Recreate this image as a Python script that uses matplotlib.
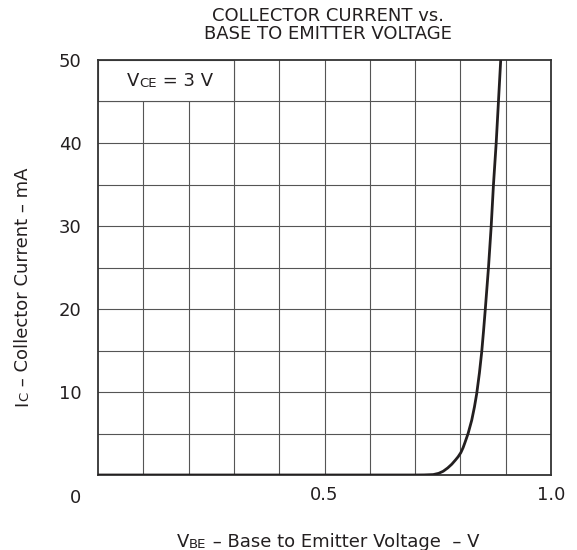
import matplotlib
matplotlib.use("Agg")
import matplotlib.pyplot as plt
from matplotlib.patches import Rectangle
from matplotlib.transforms import Bbox

# ---- data ----
vbe = [0.0, 0.30, 0.50, 0.60, 0.70, 0.72, 0.74, 0.752, 0.762, 0.772, 0.781,
       0.789, 0.795, 0.801, 0.806, 0.810, 0.817, 0.825, 0.831, 0.836, 0.842,
       0.847, 0.851, 0.855, 0.862, 0.868, 0.873, 0.879, 0.884, 0.889]
ic = [0.0, 0.0, 0.0, 0.0, 0.0, 0.01, 0.05, 0.2, 0.45, 0.85, 1.3,
      1.8, 2.2, 2.7, 3.3, 3.9, 5.0, 6.6, 8.2, 9.8, 12.3,
      14.8, 17.3, 20.0, 25.0, 30.0, 35.0, 40.0, 45.0, 50.0]

x_ticks = [0.5, 1.0]
x_tick_labels = ["0.5", "1.0"]
y_ticks = [10, 20, 30, 40, 50]
y_tick_labels = ["10", "20", "30", "40", "50"]
x_grid = [0.1, 0.2, 0.3, 0.4, 0.5, 0.6, 0.7, 0.8, 0.9]
y_grid = [5, 10, 15, 20, 25, 30, 35, 40, 45]

title_text = "COLLECTOR CURRENT vs.\nBASE TO EMITTER VOLTAGE"
xlabel_pieces = [("V", 13), ("BE", 9.5), (" \u2013 Base to Emitter Voltage  \u2013 V", 13)]
ylabel_pieces = [("I", 13), ("C", 9.5), (" \u2013 Collector Current \u2013 mA", 13)]
cond_pieces = [("V", 13), ("CE", 9.5), (" = 3 V", 13)]

# ---- style ----
plt.rcParams["font.family"] = ["DejaVu Sans"]
TC = "#231f20"
GRID = "#555555"
W, H = 577, 550

fig = plt.figure(figsize=(W / 100, H / 100), dpi=100)
ax = fig.add_axes([98 / W, 1 - 475 / H, (551 - 98) / W, (475 - 60) / H])
ax.set_xlim(0, 1.0)
ax.set_ylim(0, 50)

ax.set_xticks(x_ticks)
ax.set_xticklabels(x_tick_labels)
ax.set_yticks(y_ticks)
ax.set_yticklabels(y_tick_labels)
ax.tick_params(which="both", length=0, labelsize=13, labelcolor=TC)
ax.tick_params(axis="x", pad=8)
ax.tick_params(axis="y", pad=12)
for gx in x_grid:
    ax.axvline(gx, color=GRID, linewidth=0.8, zorder=1)
for gy in y_grid:
    ax.axhline(gy, color=GRID, linewidth=0.8, zorder=1)
for s in ax.spines.values():
    s.set_color("#333333")
    s.set_linewidth(1.3)

ax.plot(vbe, ic, color=TC, linewidth=2.0, zorder=3, solid_capstyle="butt",
        solid_joinstyle="round")

ax.add_patch(Rectangle((0, 45), 0.3, 5, facecolor="white", edgecolor=GRID,
                       linewidth=0.8, zorder=2))

fig.text(328 / W, 1 - 25 / H, title_text, ha="center", va="center",
         fontsize=13, color=TC, linespacing=1.05)

fig.text(75 / W, 1 - 498 / H, "0", ha="center", va="center",
         fontsize=13, color=TC)


def rich(pieces, cx, cy, rotation=0):
    t0 = fig.text(0.5, 0.5, pieces[0][0], fontsize=pieces[0][1], color=TC,
                  rotation=rotation, ha="left", va="baseline")
    arts = [t0]
    prev = t0
    for s, fs in pieces[1:]:
        if rotation == 0:
            a = ax.annotate(s, xy=(1, 0), xycoords=prev, fontsize=fs, color=TC,
                            ha="left", va="bottom", annotation_clip=False)
        else:
            a = ax.annotate(s, xy=(1, 1), xycoords=prev, fontsize=fs, color=TC,
                            ha="right", va="bottom", rotation=rotation,
                            rotation_mode="default", annotation_clip=False)
        arts.append(a)
        prev = a
    return t0, arts, (cx, H - cy)


groups = [
    rich(xlabel_pieces, 328, 542),
    rich(ylabel_pieces, 22.5, 287, rotation=90),
    rich(cond_pieces, 170, 81),
]

fig.canvas.draw()
r = fig.canvas.get_renderer()
for t0, arts, (tx, ty) in groups:
    bb = Bbox.union([a.get_window_extent(r) for a in arts])
    dx = tx - (bb.x0 + bb.x1) / 2
    dy = ty - (bb.y0 + bb.y1) / 2
    x0, y0 = t0.get_position()
    t0.set_position((x0 + dx / W, y0 + dy / H))

fig.savefig("out.png", dpi=100)
